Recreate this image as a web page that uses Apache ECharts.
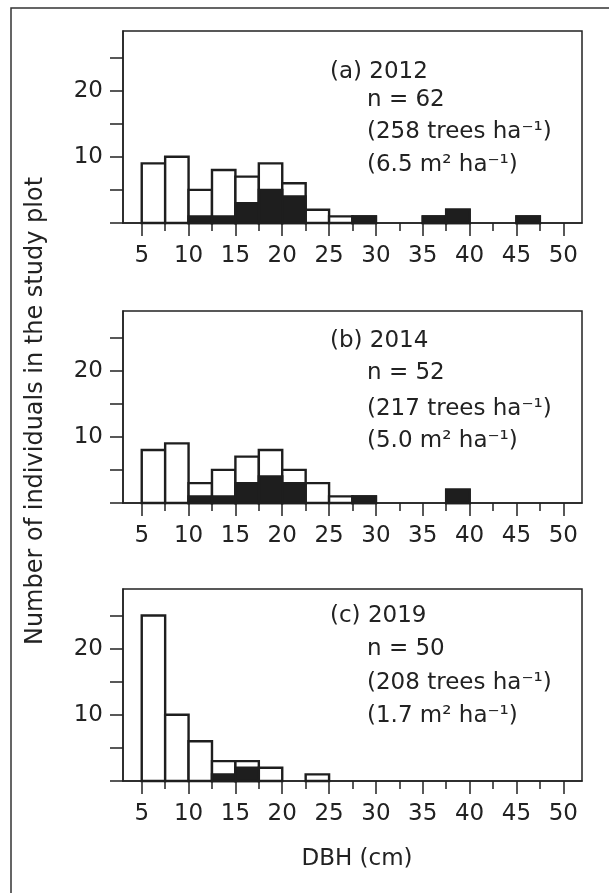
<!DOCTYPE html>
<html><head><meta charset="utf-8">
<script src="https://cdn.jsdelivr.net/npm/echarts@6/dist/echarts.min.js"></script>
<style>html,body{margin:0;padding:0;background:#fff}#c{width:609px;height:893px}</style>
</head><body><div id="c"></div>
<script>
// ---- data ----
const BIN = 2.5;
const binStarts = [5,7.5,10,12.5,15,17.5,20,22.5,25,27.5,30,32.5,35,37.5,40,42.5,45,47.5];
const total2012  = [9,10,5,8,7,9,6,2,1,1,0,0,1,2,0,0,1,0];
const shaded2012 = [0,0,1,1,3,5,4,0,0,1,0,0,1,2,0,0,1,0];
const total2014  = [8,9,3,5,7,8,5,3,1,1,0,0,0,2,0,0,0,0];
const shaded2014 = [0,0,1,1,3,4,3,0,0,1,0,0,0,2,0,0,0,0];
const total2019  = [25,10,6,3,3,2,0,1,0,0,0,0,0,0,0,0,0,0];
const shaded2019 = [0,0,0,1,2,0,0,0,0,0,0,0,0,0,0,0,0,0];
const xMajorTicks = [5,10,15,20,25,30,35,40,45,50];
const xMinorTicks = [7.5,12.5,17.5,22.5,27.5,32.5,37.5,42.5,47.5];
const yTicks = [0,5,10,15,20,25];
const yLabels = [10,20];
const notes2012 = ['(a) 2012','n = 62','(258 trees ha\u207B\u00B9)','(6.5 m\u00B2 ha\u207B\u00B9)'];
const notes2014 = ['(b) 2014','n = 52','(217 trees ha\u207B\u00B9)','(5.0 m\u00B2 ha\u207B\u00B9)'];
const notes2019 = ['(c) 2019','n = 50','(208 trees ha\u207B\u00B9)','(1.7 m\u00B2 ha\u207B\u00B9)'];
const xTitle = 'DBH (cm)';
const yTitle = 'Number of individuals in the study plot';

// ---- layout ----
const FONT = 'DejaVu Sans';
const INK = '#222';
const panels = [
  {top:31,  total:total2012, shaded:shaded2012, notes:notes2012, noteY:[72.5,100,132,165.5]},
  {top:311, total:total2014, shaded:shaded2014, notes:notes2014, noteY:[341,373,409,441.5]},
  {top:589, total:total2019, shaded:shaded2019, notes:notes2019, noteY:[616.5,649,683,716]}
];

function barRenderer(fill){
  return function(params, api){
    const x0 = api.value(0), v = api.value(1);
    const a = api.coord([x0, 0]);
    const b = api.coord([x0 + BIN, v]);
    return {type:'rect',
      shape:{x:a[0], y:b[1], width:b[0]-a[0], height:a[1]-b[1]},
      style:{fill:fill, stroke:'#1e1e1e', lineWidth:2.4}};
  };
}

const grid = [], xAxis = [], yAxis = [], series = [], graphic = [];
panels.forEach((p, i) => {
  grid.push({left:123, width:459, top:p.top, height:192, show:true,
    borderColor:INK, borderWidth:1.5, backgroundColor:'transparent'});
  xAxis.push({type:'value', gridIndex:i, min:3, max:52, position:'bottom',
    axisLine:{show:true, onZero:false, lineStyle:{color:INK, width:1.5}},
    axisTick:{show:true, customValues:xMajorTicks, length:13, lineStyle:{color:INK, width:1.5}},
    axisLabel:{show:true, customValues:xMajorTicks, margin:22, fontSize:23, fontFamily:FONT, color:INK},
    splitLine:{show:false}});
  xAxis.push({type:'value', gridIndex:i, min:3, max:52, position:'bottom',
    axisLine:{show:false},
    axisTick:{show:true, customValues:xMinorTicks, length:8, lineStyle:{color:INK, width:1.5}},
    axisLabel:{show:false}, splitLine:{show:false}});
  yAxis.push({type:'value', gridIndex:i, min:0, max:29,
    axisLine:{show:true, lineStyle:{color:INK, width:1.5}},
    axisTick:{show:true, customValues:yTicks, length:13, lineStyle:{color:INK, width:1.5}},
    axisLabel:{show:true, customValues:yLabels, margin:20, fontSize:23, fontFamily:FONT, color:INK},
    splitLine:{show:false}});
  const totData = binStarts.map((b, k) => [b, p.total[k]]).filter(d => d[1] > 0);
  const shData = binStarts.map((b, k) => [b, p.shaded[k]]).filter(d => d[1] > 0);
  series.push({type:'custom', xAxisIndex:2*i, yAxisIndex:i, coordinateSystem:'cartesian2d',
    renderItem:barRenderer('#ffffff'), data:totData, encode:{x:0, y:1}, z:3, silent:true});
  series.push({type:'custom', xAxisIndex:2*i, yAxisIndex:i, coordinateSystem:'cartesian2d',
    renderItem:barRenderer('#1e1e1e'), data:shData, encode:{x:0, y:1}, z:4, silent:true});
  p.notes.forEach((t, k) => {
    graphic.push({type:'text', x:(k === 0 ? 330 : 367), y:p.noteY[k], z:10,
      style:{text:t, fontSize:23, fontFamily:FONT, fill:INK,
        align:'left', textAlign:'left', verticalAlign:'middle', textVerticalAlign:'middle'}});
  });
});

graphic.push({type:'rect', shape:{x:11, y:8, width:700, height:1000},
  style:{fill:'none', stroke:'#333', lineWidth:1.5}, z:1});
graphic.push({type:'text', x:357, y:859, z:10,
  style:{text:xTitle, fontSize:23, fontFamily:FONT, fill:INK,
    align:'center', textAlign:'center', verticalAlign:'middle', textVerticalAlign:'middle'}});
graphic.push({type:'text', x:36, y:411, rotation:Math.PI/2, z:10,
  style:{text:yTitle, fontSize:24, fontFamily:FONT, fill:INK,
    align:'center', textAlign:'center', verticalAlign:'middle', textVerticalAlign:'middle'}});

const chart = echarts.init(document.getElementById('c'), null, {renderer:'canvas'});
chart.setOption({animation:false, backgroundColor:'#ffffff', grid, xAxis, yAxis, series, graphic});
</script></body></html>
